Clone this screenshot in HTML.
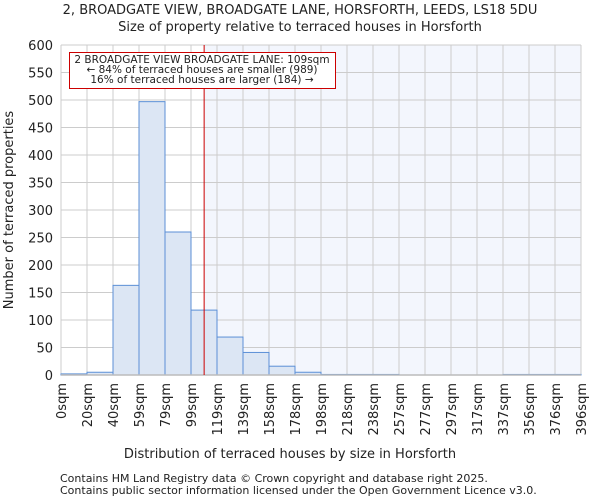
<!DOCTYPE html>
<html><head><meta charset="utf-8"><style>
body{margin:0;background:#fff;font-family:"DejaVu Sans","Liberation Sans",sans-serif;}
svg text{font-family:"DejaVu Sans","Liberation Sans",sans-serif;fill:#222;}
</style></head><body>
<svg id="chart" width="600" height="500">
<text x="300" y="14" text-anchor="middle" font-size="13">2, BROADGATE VIEW, BROADGATE LANE, HORSFORTH, LEEDS, LS18 5DU</text>
<text x="300" y="31" text-anchor="middle" font-size="13">Size of property relative to terraced houses in Horsforth</text>
<g id="plot"></g>
<text x="290" y="458" text-anchor="middle" font-size="13">Distribution of terraced houses by size in Horsforth</text>
<text transform="translate(13,210) rotate(-90)" text-anchor="middle" font-size="13">Number of terraced properties</text>
<text x="60" y="482" font-size="11" fill="#444">Contains HM Land Registry data © Crown copyright and database right 2025.</text>
<text x="60" y="494" font-size="11" fill="#444">Contains public sector information licensed under the Open Government Licence v3.0.</text>
</svg>
<script>
const binLabels=["0sqm","20sqm","40sqm","59sqm","79sqm","99sqm","119sqm","139sqm","158sqm","178sqm","198sqm","218sqm","238sqm","257sqm","277sqm","297sqm","317sqm","337sqm","356sqm","376sqm","396sqm"];
const counts=[2,5,163,497,260,118,69,41,16,5,1,1,1,0,0,0,0,1,1,1];
const yTicks=[0,50,100,150,200,250,300,350,400,450,500,550,600];
const propertySize=109;
const binStart=0, binWidth=19.8;
const X0=61,X1=581,Y0=375,Y1=45,YMAX=600;
const ns="http://www.w3.org/2000/svg";
const g=document.getElementById('plot');
function xb(i){return X0+(X1-X0)*i/counts.length;}
function xv(v){return xb((v-binStart)/binWidth);}
function y(v){return Y0-(Y0-Y1)*v/YMAX;}
function mk(t,a){const e=document.createElementNS(ns,t);for(const k in a)e.setAttribute(k,a[k]);g.appendChild(e);return e;}
const lx=xv(propertySize);
let e=mk('rect',{x:lx,y:Y1,width:X1-lx,height:Y0-Y1,fill:'#f3f6fd'});


for(let i=0;i<=counts.length;i++){e=mk('line',{x1:xb(i),x2:xb(i),y1:Y1,y2:Y0,stroke:'#cccccc','stroke-width':1});

}
yTicks.forEach(t=>{e=mk('line',{x1:X0,x2:X1,y1:y(t),y2:y(t),stroke:'#cccccc','stroke-width':1});


e=mk('text',{x:X0-8,y:y(t)+5,'text-anchor':'end','font-size':13});e.textContent=t;

});
counts.forEach((c,i)=>{e=mk('rect',{x:xb(i),y:y(c),width:xb(i+1)-xb(i),height:Y0-y(c),fill:'#dce6f4',stroke:'#5b8fd6','stroke-width':1});

});
binLabels.forEach((l,i)=>{e=mk('text',{transform:`translate(${xb(i)+5},${Y0+8}) rotate(-90)`,'text-anchor':'end','font-size':13});e.textContent=l;

});
e=mk('line',{x1:X0,x2:X1,y1:Y0,y2:Y0,stroke:'#bbb','stroke-width':1.5});


e=mk('line',{x1:lx,x2:lx,y1:Y1,y2:Y0,stroke:'#cc0000','stroke-width':1});


e=mk('rect',{x:69.5,y:52.5,width:266,height:36,fill:'#fff',stroke:'#cc0000','stroke-width':1});


["2 BROADGATE VIEW BROADGATE LANE: 109sqm","← 84% of terraced houses are smaller (989)","16% of terraced houses are larger (184) →"].forEach((s,i)=>{
e=mk('text',{x:202,y:63+i*10,'text-anchor':'middle','font-size':10.5});e.textContent=s;

});
</script>
</body></html>
